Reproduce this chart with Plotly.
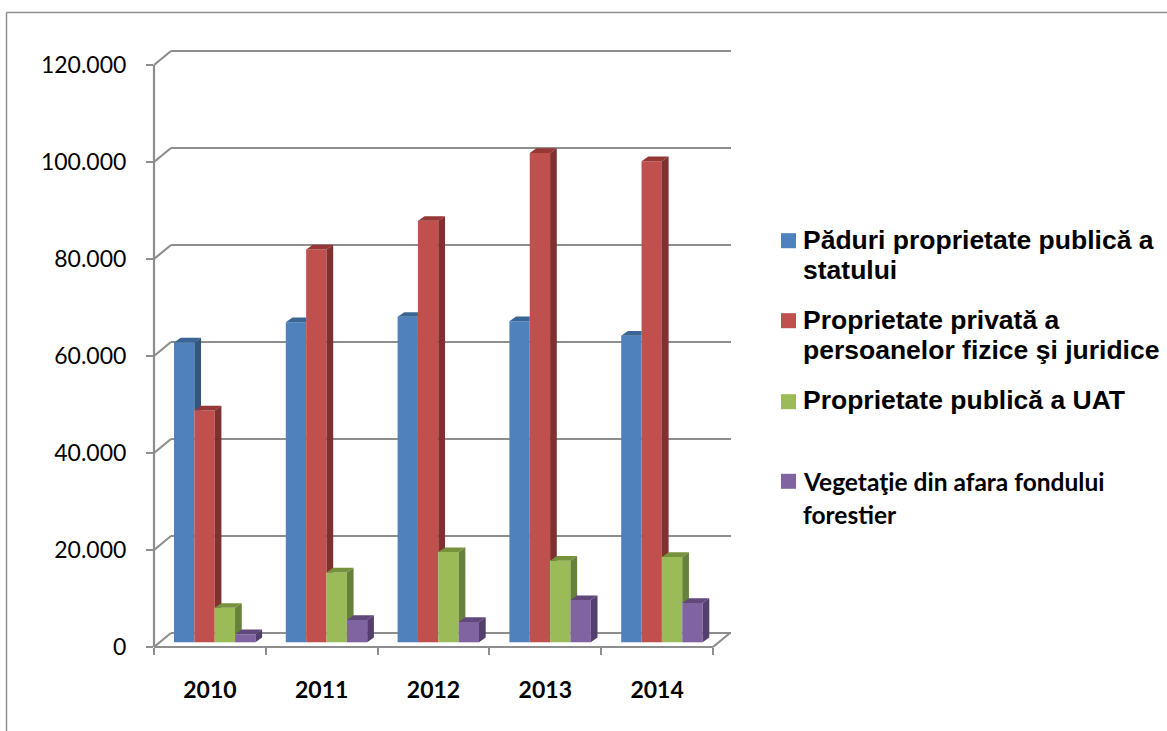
import plotly.graph_objects as go

years = ["2010", "2011", "2012", "2013", "2014"]
y_ticks = [0, 20000, 40000, 60000, 80000, 100000, 120000]
y_tick_labels = ["0", "20.000", "40.000", "60.000", "80.000", "100.000", "120.000"]

stat = [61800, 66000, 67100, 66200, 63200]
privat = [47800, 81000, 86900, 100900, 99200]
uat = [7100, 14400, 18600, 16800, 17600]
vegetatie = [1650, 4600, 4200, 8700, 8100]

names = ["Păduri proprietate publică a<br>statului",
         "Proprietate privată a<br>persoanelor fizice şi juridice",
         "Proprietate publică a UAT",
         "Vegetaţie din afara fondului<br>forestier"]
series = [stat, privat, uat, vegetatie]
front = ["#4F81BD", "#C0504D", "#9BBB59", "#8064A2"]
side = ["#31577F", "#7F312F", "#67803A", "#533F6D"]
top_c = ["#3B6594", "#953735", "#76923C", "#60497A"]
GREY = "#8E8E8E"

# layout (px)
L, R, T, B = 154, 731, 52, 647
CAT_W = 111.8
PX_PER_K = 4.85
xmax = (R - L) / CAT_W
ymax = (B - T) / PX_PER_K * 1000


def px(v):
    return (v * CAT_W) / (R - L)


def py(v):
    return (v / 1000 * PX_PER_K) / (B - T)


def page_x(p):
    return (p - L) / (R - L)


def page_y(p):
    return (B - p) / (B - T)


BACK_DX, BACK_DY = 17 / CAT_W, 14 / PX_PER_K * 1000
BAR_W = 20.35 / CAT_W
BAR_START = 20 / CAT_W
BASE = 4.7 / PX_PER_K * 1000
DX, DY = 6.7 / CAT_W, 4.7 / PX_PER_K * 1000

fig = go.Figure()

for i, vals in enumerate(series):
    label_txt = names[i].replace("<br>", " ")
    offset = BAR_START + i * BAR_W - 0.5
    fig.add_trace(go.Bar(x=[k + 0.5 for k in range(5)], y=vals, base=BASE, width=BAR_W, offset=offset,
                         marker=dict(color=front[i], line=dict(width=0)), name=label_txt, showlegend=False,
                         hoverinfo="skip"))

for i, vals in enumerate(series):
    label_txt = names[i].replace("<br>", " ")
    next_vals = series[i + 1] if i < 3 else [0] * 5
    sx, sy, tx, ty = [], [], [], []
    for k, v in enumerate(vals):
        xl = k + BAR_START + i * BAR_W
        xr = xl + BAR_W
        n = next_vals[k]
        yt = BASE + v
        if n == 0:
            sx += [xr, xr + DX, xr + DX, xr, None]
            sy += [BASE, BASE + DY, yt + DY, yt, None]
        elif n < v:
            low = BASE + n
            sx += [xr, xr + DX, xr + DX, xr, None]
            sy += [low, low, yt + DY, yt, None]
        if n > v:
            tx += [xl, xr, xr, xl + DX, None]
            ty += [yt, yt, yt + DY, yt + DY, None]
        else:
            tx += [xl, xr, xr + DX, xl + DX, None]
            ty += [yt, yt, yt + DY, yt + DY, None]
    for xs, ys, col in ((sx, sy, side[i]), (tx, ty, top_c[i])):
        fig.add_trace(go.Scatter(x=xs, y=ys, fill="toself", fillcolor=col, mode="none", name=label_txt,
                                 showlegend=False, hoverinfo="skip"))

shapes = []


def seg(x0, y0, x1, y1, color=GREY, width=2.2):
    shapes.append(dict(type="line", xref="paper", yref="paper", x0=x0, y0=y0, x1=x1, y1=y1,
                       layer="below", line=dict(color=color, width=width)))


for t in y_ticks:
    seg(px(0), py(t), px(BACK_DX), py(t + BACK_DY))
    seg(px(BACK_DX), py(t + BACK_DY), page_x(R), py(t + BACK_DY))
seg(px(0), py(0), px(0), py(y_ticks[-1]))
seg(px(0), py(0), px(5), py(0))
seg(px(5), py(0), px(5 + BACK_DX), py(BACK_DY))

# outer frame
seg(page_x(6.5), page_y(12.5), page_x(1167), page_y(12.5), width=1.5)
seg(page_x(6.5), page_y(12.5), page_x(6.5), page_y(731), width=1.5)

# legend
swatch_y = [240.7, 320.7, 401.7, 481.3]
for c, yy in zip(front, swatch_y):
    shapes.append(dict(type="rect", xref="paper", yref="paper", x0=page_x(781), x1=page_x(796),
                       y0=page_y(yy - 7.5), y1=page_y(yy + 7.5), fillcolor=c, line=dict(width=0)))

annotations = []


def label(text, y, family, size):
    annotations.append(dict(text=f"<b>{text}</b>", xref="paper", yref="paper", x=page_x(800.5), y=page_y(y),
                            xanchor="left", yanchor="middle", align="left", showarrow=False,
                            font=dict(family=family, size=size, color="#000000")))


ARIAL = "Liberation Sans"
ARIAL_SIZE = 26.5
for name, ys, family, size in ((names[0], [240, 270], ARIAL, ARIAL_SIZE),
                               (names[1], [320, 350], ARIAL, ARIAL_SIZE),
                               (names[2], [400], ARIAL, ARIAL_SIZE),
                               (names[3], [481, 514], "Lato", 24.5)):
    for line, yy in zip(name.split("<br>"), ys):
        label(line, yy, family, size)

fig.update_layout(
    width=1167, height=731, autosize=False,
    margin=dict(l=L, r=1167 - R, t=T, b=731 - B, pad=0),
    paper_bgcolor="white", plot_bgcolor="white", showlegend=False, barmode="overlay",
    shapes=shapes, annotations=annotations,
    xaxis=dict(range=[0, xmax], showgrid=False, zeroline=False, showline=False,
               tickmode="array", tickvals=[k + 0.5 for k in range(5)], ticktext=[f"<b>{y}</b>" for y in years],
               ticks="", ticklabelstandoff=27, tickfont=dict(family="Lato", size=23, color="#000000"),
               minor=dict(tickmode="array", tickvals=list(range(6)), ticks="outside", ticklen=7, tickwidth=2,
                          tickcolor=GREY, showgrid=False)),
    yaxis=dict(range=[0, ymax], showgrid=False, zeroline=False, showline=False,
               tickmode="array", tickvals=y_ticks, ticktext=y_tick_labels,
               ticks="outside", ticklen=7, tickwidth=2, tickcolor=GREY, ticklabelstandoff=15,
               tickfont=dict(family="Lato", size=23, color="#000000")),
)

fig.write_html("out.html", post_script="document.body.style.margin='0';",
               config={"displayModeBar": False})
